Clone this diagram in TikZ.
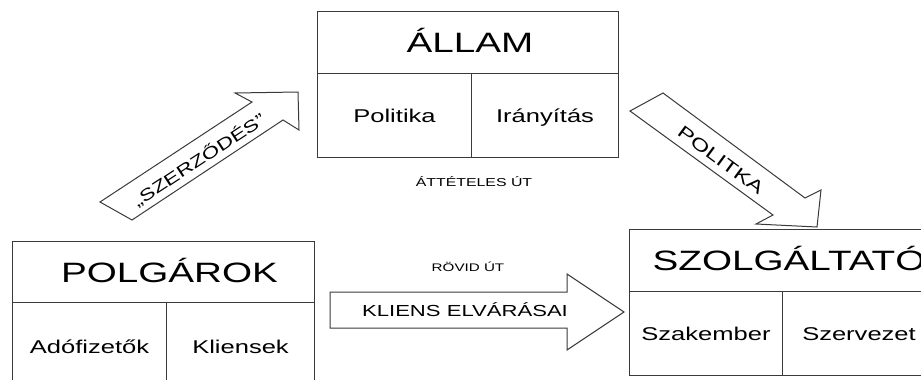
\documentclass[tikz,border=0pt]{standalone}
\usepackage{fontspec}
\setmainfont{Liberation Sans}
\newfontfamily\widefont[FakeStretch=1.38]{Liberation Sans}
\definecolor{linecol}{HTML}{3A3A3A}

\tikzset{
  cell/.style={draw=linecol,line width=1pt,rectangle,inner sep=0pt,anchor=north west,
    font=\widefont\fontsize{18.5}{20}\selectfont,text height=13.2pt,text depth=0pt},
  titletxt/.style={font=\widefont\fontsize{28}{30}\selectfont,text height=20pt,text depth=0pt,inner sep=0pt},
  smalltxt/.style={font=\widefont\fontsize{11.5}{13}\selectfont,text height=8.2pt,text depth=0pt,inner sep=0pt},
  arrowtxt/.style={font=\widefont\fontsize{16.5}{18}\selectfont,text height=11.8pt,text depth=0pt,inner sep=0pt},
  blockarrow/.style={draw=linecol,line width=1pt,line join=miter,fill=white}
}

\begin{document}
\begin{tikzpicture}[x=1pt,y=-1pt]
              \path[use as bounding box,clip] (0,0) rectangle (921,380);
              \fill[white] (0,0) rectangle (921,380);
              % ALLAM
              \node[cell,minimum width=301pt,minimum height=62pt] (allamtop) at (317,11) {};
              \node[cell,minimum width=154pt,minimum height=84pt] (politika) at (317,73) {Politika};
              \node[cell,minimum width=147pt,minimum height=84pt] (iranyitas) at (471,73) {Irányítás};
              \node[titletxt] (allam) at ([xshift=2pt]allamtop.center) {ÁLLAM};
              \node[smalltxt] (atteteles) at (474,182) {ÁTTÉTELES ÚT};
              % POLGAROK
              \node[cell,minimum width=302pt,minimum height=61pt] (polgtop) at (12,241) {};
              \node[cell,minimum width=154pt,minimum height=88pt] (adofizetok) at (12,302) {Adófizetők};
              \node[cell,minimum width=148pt,minimum height=88pt] (kliensek) at (166,302) {Kliensek};
              \node[titletxt] (polgarok) at ([xshift=6pt]polgtop.center) {POLGÁROK};
              % SZOLGALTATO
              \node[cell,minimum width=306pt,minimum height=62pt] (szolgtop) at (629,229) {};
              \node[cell,minimum width=153pt,minimum height=84pt] (szakember) at (629,291) {Szakember};
              \node[cell,minimum width=153pt,minimum height=84pt] (szervezet) at (782,291) {Szervezet};
              \node[titletxt] (szolgaltato) at ([xshift=6.5pt]szolgtop.center) {SZOLGÁLTATÓ};
              % rovid ut
              \coordinate (K1) at (330,292);
              \coordinate (K2) at (567,292);
              \coordinate (K3) at (567,274);
              \coordinate (K4) at (624,312);
              \coordinate (K5) at (567,350);
              \coordinate (K6) at (567,328);
              \coordinate (K7) at (330,328);
              \draw[blockarrow] (K1)--(K2)--(K3)--(K4)--(K5)--(K6)--(K7)--cycle;
              \node[arrowtxt,font=\widefont\fontsize{16}{18}\selectfont,text height=11.5pt] (elvarasai) at (465,311) {KLIENS ELVÁRÁSAI};
              \node[smalltxt,font=\widefont\fontsize{11}{13}\selectfont,text height=7.9pt] (rovid) at (468,268) {RÖVID ÚT};
              % szerzodes
              \coordinate (S1) at (100,202);
              \coordinate (S2) at (252,102);
              \coordinate (S3) at (235,93);
              \coordinate (S4) at (298,92);
              \coordinate (S5) at (299,130);
              \coordinate (S6) at (283,120);
              \coordinate (S7) at (132,220);
              \draw[blockarrow] (S1)--(S2)--(S3)--(S4)--(S5)--(S6)--(S7)--cycle;
              \node[arrowtxt,rotate=33.3] (szerzodes) at (199,160) {„SZERZŐDÉS”};
              % politika
              \coordinate (P1) at (663,93);
              \coordinate (P2) at (805,198);
              \coordinate (P3) at (821,190);
              \coordinate (P4) at (817,227);
              \coordinate (P5) at (756,224);
              \coordinate (P6) at (773,215);
              \coordinate (P7) at (630,111);
              \draw[blockarrow] (P1)--(P2)--(P3)--(P4)--(P5)--(P6)--(P7)--cycle;
              \node[arrowtxt,rotate=-36.5,font=\widefont\fontsize{17.5}{19}\selectfont,text height=12.5pt] (politka) at (721,160) {POLITKA};
\end{tikzpicture}
\end{document}
